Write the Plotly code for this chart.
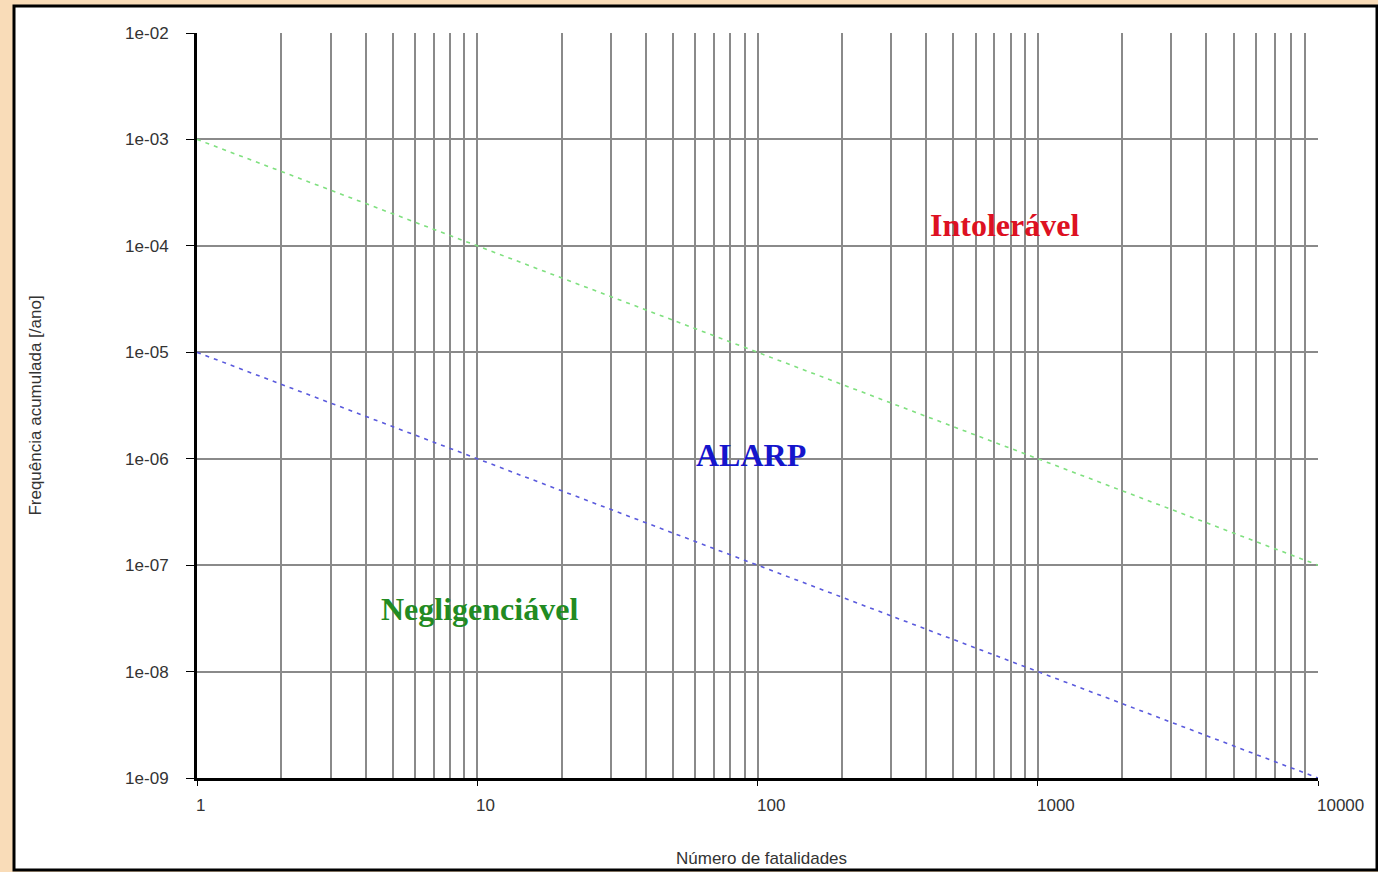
import math
import plotly.graph_objects as go

# Data
fatalities = [1, 10000]
intoleravel_limit = [1e-3, 1e-7]
negligenciavel_limit = [1e-5, 1e-9]

y_tickvals = [1e-2, 1e-3, 1e-4, 1e-5, 1e-6, 1e-7, 1e-8, 1e-9]
y_ticktext = ["1e-02", "1e-03", "1e-04", "1e-05", "1e-06", "1e-07", "1e-08", "1e-09"]
x_tickvals = [1, 10, 100, 1000, 10000]
x_ticktext = ["1", "10", "100", "1000", "10000"]

region_labels = ["Intolerável", "ALARP", "Negligenciável"]
region_x = [764, 95, 10.2]
region_y = [1.57e-4, 1.08e-6, 3.9e-8]
region_colors = ["#DD1122", "#1515CC", "#228B22"]

W, H = 1378, 872
L, R, T, B = 197, 1318, 33, 778  # plot area in page pixels
pw, ph = R - L, B - T

fig = go.Figure()
fig.add_trace(go.Scatter(x=fatalities, y=intoleravel_limit, mode="lines",
                         line=dict(color="#7FE07F", width=1.6, dash="4px,5px"),
                         showlegend=False, hoverinfo="skip"))
fig.add_trace(go.Scatter(x=fatalities, y=negligenciavel_limit, mode="lines",
                         line=dict(color="#5A5ADD", width=1.6, dash="4px,5px"),
                         showlegend=False, hoverinfo="skip"))

annotations = []
for t, xv, yv, c in zip(region_labels, region_x, region_y, region_colors):
    annotations.append(dict(x=math.log10(xv), y=math.log10(yv), xref="x", yref="y",
                            text="<b>%s</b>" % t,
                            showarrow=False, xanchor="center", yanchor="middle",
                            font=dict(family="Liberation Serif", size=32, color=c)))
for xv, t in zip(x_tickvals, x_ticktext):
    annotations.append(dict(x=math.log10(xv), y=0, xref="x", yref="paper", text=t, showarrow=False,
                            xanchor="left", yanchor="middle", yshift=-27, xshift=-3,
                            font=dict(family="Liberation Sans", size=17, color="#333333")))
annotations.append(dict(x=(761 - L) / pw, y=-(858 - B) / ph, xref="paper", yref="paper",
                        text="Número de fatalidades",
                        showarrow=False, xanchor="center", yanchor="middle",
                        font=dict(family="Liberation Sans", size=17, color="#333333")))

fig.update_layout(
    width=W, height=H,
    margin=dict(l=L, r=W - R, t=T, b=H - B),
    paper_bgcolor="#F9DCB8",
    plot_bgcolor="white",
    annotations=annotations,
    shapes=[dict(type="rect", xref="paper", yref="paper", layer="below",
                 x0=(14 - L) / pw, x1=(1377 - L) / pw, y0=-(870 - B) / ph, y1=(B - 6) / ph,
                 fillcolor="white", line=dict(color="black", width=3))],
    xaxis=dict(type="log", range=[0, 4], tickvals=x_tickvals, ticktext=[""] * 5,
               showgrid=True, gridcolor="#8A8A8A", gridwidth=1.5,
               minor=dict(dtick="D1", showgrid=True, gridcolor="#8A8A8A", gridwidth=1.5, ticklen=0),
               showline=True, linecolor="black", linewidth=3,
               ticks="outside", ticklen=5, tickcolor="black", zeroline=False),
    yaxis=dict(type="log", range=[-9, -2], tickvals=y_tickvals, ticktext=y_ticktext,
               showgrid=True, gridcolor="#8A8A8A", gridwidth=1.5,
               showline=True, linecolor="black", linewidth=3,
               ticks="outside", ticklen=8, tickcolor="black", zeroline=False,
               ticklabelstandoff=14,
               tickfont=dict(family="Liberation Sans", size=17, color="#333333"),
               title=dict(text="Frequência acumulada [/ano]", standoff=80,
                          font=dict(family="Liberation Sans", size=17, color="#333333"))),
)

fig.write_html("out.html", config={"displayModeBar": False},
               post_script="document.body.style.margin='0';document.body.style.background='#F9DCB8';document.body.style.overflow='hidden';")
